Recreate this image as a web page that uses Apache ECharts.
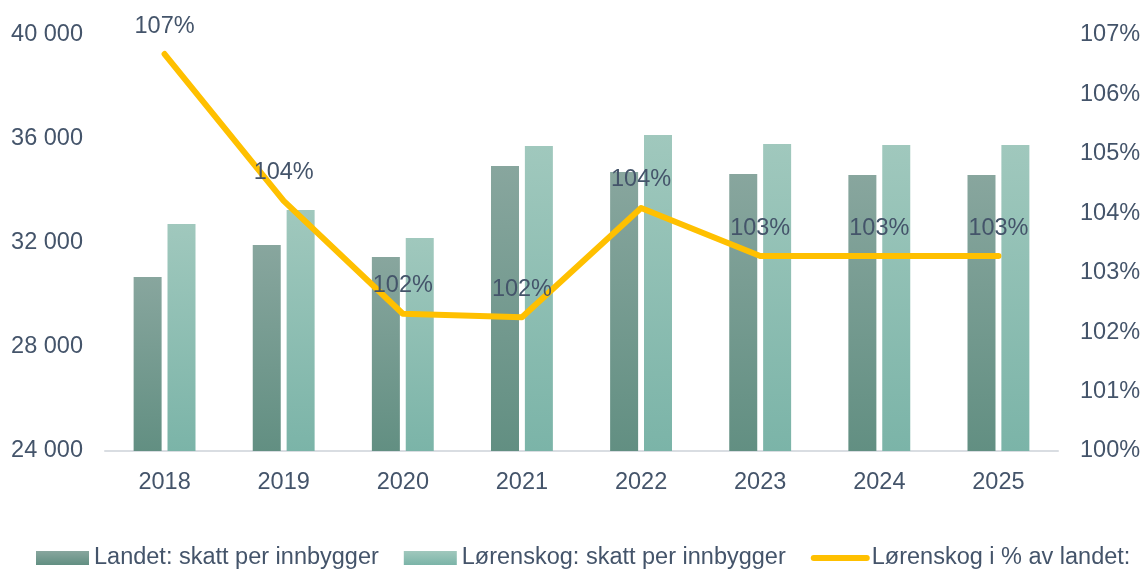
<!DOCTYPE html>
<html>
<head>
<meta charset="utf-8">
<script src="https://cdn.jsdelivr.net/npm/echarts@6/dist/echarts.min.js"></script>
<style>
html,body{margin:0;padding:0;background:#fff;}
#chart{width:1148px;height:569px;}
</style>
</head>
<body>
<div id="chart"></div>
<script>
// data
var years = ['2018', '2019', '2020', '2021', '2022', '2023', '2024', '2025'];
var landet = [30690, 31920, 31460, 34960, 34730, 34650, 34620, 34620];
var lorenskog = [32730, 33270, 32190, 35730, 36150, 35810, 35770, 35770];
var andel = [106.68, 104.21, 102.31, 102.25, 104.09, 103.28, 103.28, 103.28];

var txt = '#44546a';
var font = 'Liberation Sans, Arial, sans-serif';
var fs = 23.5;

var myChart = echarts.init(document.getElementById('chart'));

function grad(top, bottom) {
    return new echarts.graphic.LinearGradient(0, 0, 0, 1, [
        { offset: 0, color: top },
        { offset: 1, color: bottom }
    ]);
}

var option = {
    animation: false,
    textStyle: { fontFamily: font },
    grid: { left: 105, right: 90, top: 35, bottom: 118 },
    legend: {
        bottom: -6,
        left: 31,
        width: 1400,
        itemWidth: 53,
        itemHeight: 14,
        itemGap: 25,
        textStyle: { color: txt, fontSize: 23.5, fontFamily: font },
        data: [
            { name: 'Landet: skatt per innbygger', icon: 'rect' },
            { name: 'Lørenskog: skatt per innbygger', icon: 'rect' },
            {
                name: 'Lørenskog i % av landet:',
                lineStyle: { width: 6, cap: 'round', color: '#ffc000' },
                itemStyle: { opacity: 0 }
            }
        ]
    },
    xAxis: {
        type: 'category',
        data: years,
        axisLine: { lineStyle: { color: '#d9dde2', width: 2 } },
        axisTick: { show: false },
        axisLabel: { color: txt, fontSize: fs, margin: 20 }
    },
    yAxis: [{
        type: 'value',
        min: 24000,
        max: 40000,
        interval: 4000,
        splitLine: { show: false },
        axisLine: { show: false },
        axisTick: { show: false },
        axisLabel: {
            color: txt, fontSize: fs, margin: 22,
            formatter: function (v) {
                return String(v).replace(/\B(?=(\d{3})+(?!\d))/g, ' ');
            }
        }
    }, {
        type: 'value',
        min: 100,
        max: 107,
        interval: 1,
        splitLine: { show: false },
        axisLine: { show: false },
        axisTick: { show: false },
        axisLabel: { color: txt, fontSize: fs, margin: 22, formatter: '{value}%' }
    }],
    series: [{
        name: 'Landet: skatt per innbygger',
        type: 'bar',
        barWidth: 28,
        barGap: '21%',
        itemStyle: { color: grad('#88a69e', '#628f82') },
        data: landet
    }, {
        name: 'Lørenskog: skatt per innbygger',
        type: 'bar',
        barWidth: 28,
        itemStyle: { color: grad('#a0c8bd', '#7bb4a8') },
        data: lorenskog
    }, {
        name: 'Lørenskog i % av landet:',
        type: 'line',
        yAxisIndex: 1,
        symbol: 'none',
        z: 5,
        lineStyle: { color: '#ffc000', width: 6, cap: 'round', join: 'round' },
        itemStyle: { color: '#ffc000' },
        data: andel
    }, {
        // labels for the line
        name: 'andel-label',
        type: 'scatter',
        yAxisIndex: 1,
        symbolSize: 0,
        z: 6,
        silent: true,
        itemStyle: { opacity: 1, color: '#ffc000' },
        label: {
            show: true,
            position: 'top',
            distance: 16,
            color: txt,
            opacity: 1,
            fontSize: fs,
            formatter: function (p) { return Math.round(p.value) + '%'; }
        },
        data: andel
    }]
};
myChart.setOption(option);
</script>
</body>
</html>
